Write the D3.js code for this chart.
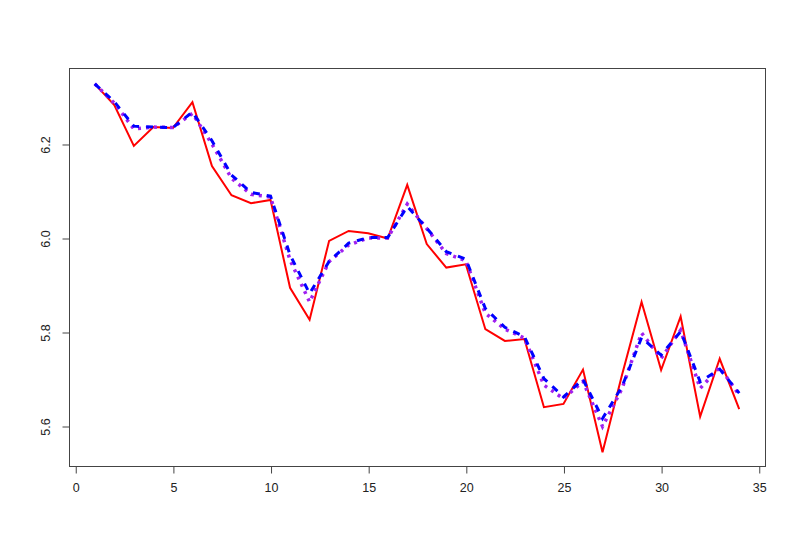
<!DOCTYPE html>
<html>
<head>
<meta charset="utf-8">
<script src="https://cdn.jsdelivr.net/npm/d3@7"></script>
<style>
  html, body { margin: 0; padding: 0; background: #fff; }
  svg { display: block; }
  text { font-family: "Liberation Sans", Arial, sans-serif; }
</style>
</head>
<body>
<svg id="chart" width="800" height="554"></svg>
<script>
const xIndex = [1,2,3,4,5,6,7,8,9,10,11,12,13,14,15,16,17,18,19,20,21,22,23,24,25,26,27,28,29,30,31,32,33,34];
const redSeries = [6.328,6.283,6.196,6.236,6.234,6.289,6.153,6.091,6.074,6.081,5.894,5.826,5.994,6.015,6.010,5.999,6.113,5.987,5.937,5.944,5.806,5.781,5.785,5.640,5.647,5.720,5.544,5.709,5.864,5.719,5.833,5.620,5.743,5.636];
const purpleSeries = [6.328,6.287,6.232,6.236,6.235,6.265,6.200,6.127,6.093,6.087,5.953,5.864,5.950,5.985,6.000,6.000,6.072,6.020,5.967,5.952,5.840,5.806,5.787,5.687,5.658,5.695,5.599,5.680,5.798,5.744,5.804,5.680,5.725,5.666];
const blueSeries = [6.328,6.290,6.238,6.236,6.235,6.268,6.207,6.134,6.097,6.089,5.964,5.882,5.950,5.989,6.001,6.001,6.067,6.021,5.971,5.955,5.850,5.810,5.790,5.701,5.662,5.699,5.616,5.684,5.788,5.751,5.801,5.694,5.721,5.670];
const xTicks = [0,5,10,15,20,25,30,35];
const yTicks = [5.6,5.8,6.0,6.2];

const svg = d3.select("#chart");
const L = 69, R = 765, T = 68, B = 466;

const x = d3.scaleLinear().domain([-0.32, 35.32]).range([L, R]);
const y = d3.scaleLinear().domain([5.5149, 6.3617]).range([B, T]);

// plotting region box
svg.append("rect")
  .attr("x", L + 0.5).attr("y", T + 0.5)
  .attr("width", R - L).attr("height", B - T)
  .attr("fill", "none").attr("stroke", "#444").attr("stroke-width", 1);

// x axis
const xAxis = d3.axisBottom(x).tickValues(xTicks).tickSize(7).tickPadding(10).tickFormat(d3.format("d"));
const gx = svg.append("g").attr("transform", `translate(0.5,${B + 0.5})`).call(xAxis);
gx.select(".domain").attr("d", `M${x(0)},0H${x(35)}`).attr("stroke", "#444");
gx.selectAll(".tick line").attr("stroke", "#444");
gx.selectAll(".tick text").attr("font-size", 12.5).attr("fill", "#222")
  .attr("font-family", "'Liberation Sans', Arial, sans-serif");

// y axis
const yAxis = d3.axisLeft(y).tickValues(yTicks).tickSize(7).tickFormat(d3.format(".1f"));
const gy = svg.append("g").attr("transform", `translate(${L + 0.5},0.5)`).call(yAxis);
gy.select(".domain").attr("d", `M0,${y(5.6)}V${y(6.2)}`).attr("stroke", "#444");
gy.selectAll(".tick line").attr("stroke", "#444");
gy.selectAll(".tick text").remove();
gy.selectAll(".tick").append("text")
  .attr("transform", "translate(-24,0) rotate(-90)")
  .attr("text-anchor", "middle")
  .attr("dy", "0.35em")
  .attr("font-size", 12.5).attr("fill", "#222")
  .attr("font-family", "'Liberation Sans', Arial, sans-serif")
  .text(d => d3.format(".1f")(d));

const line = d3.line().x((d, i) => x(xIndex[i])).y(d => y(d));

svg.append("path").datum(redSeries)
  .attr("d", line).attr("fill", "none")
  .attr("stroke", "#ff0000").attr("stroke-width", 2).attr("stroke-linejoin", "miter");

svg.append("path").datum(purpleSeries)
  .attr("d", line).attr("fill", "none")
  .attr("stroke", "#a020f0").attr("stroke-width", 3.5)
  .attr("stroke-dasharray", "3,5");

svg.append("path").datum(blueSeries)
  .attr("d", line).attr("fill", "none")
  .attr("stroke", "#0000ff").attr("stroke-width", 3)
  .attr("stroke-dasharray", "7,7");
</script>
</body>
</html>
